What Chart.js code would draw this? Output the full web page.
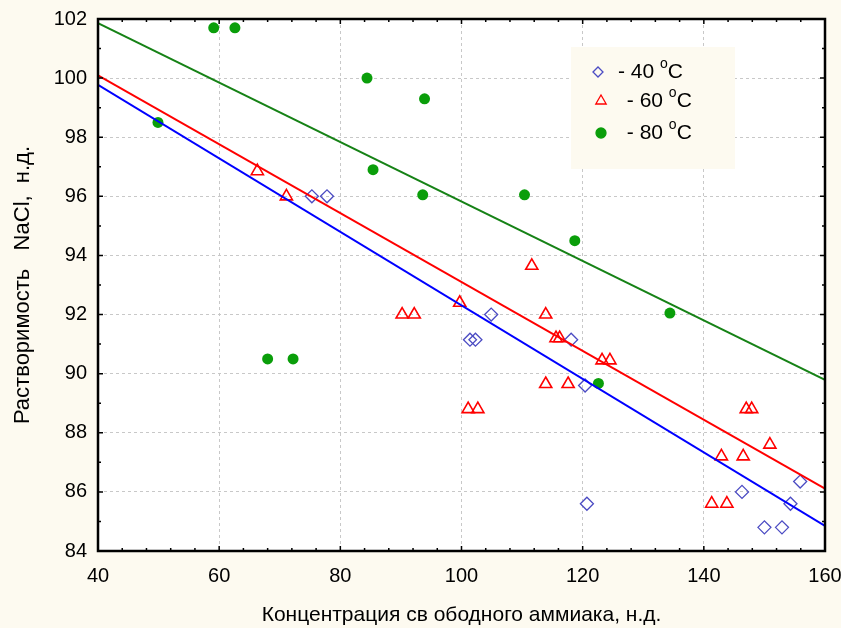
<!DOCTYPE html>
<html>
<head>
<meta charset="utf-8">
<script src="https://cdn.jsdelivr.net/npm/chart.js@4"></script>
<style>
  html, body { margin: 0; padding: 0; background: #fdfaf0; }
  #wrap { width: 841px; height: 628px; }
</style>
</head>
<body>
<div id="wrap"><canvas id="chart" width="841" height="628"></canvas></div>
<script>
// measured points, 40 / 60 / 80 °C
const x40 = [75.3, 77.8, 104.9, 101.4, 102.3, 118.1, 120.4, 120.7, 146.3, 150.0, 152.9, 154.3, 155.9];
const y40 = [96.0, 96.0, 92.0, 91.15, 91.15, 91.15, 89.6, 85.6, 86.0, 84.8, 84.8, 85.6, 86.35];

const x60 = [66.3, 71.1, 90.2, 92.2, 99.7, 111.6, 113.9, 115.6, 116.2, 123.2, 124.5, 113.9, 117.6,
             101.1, 102.7, 147.0, 147.9, 150.9, 142.9, 146.5, 141.3, 143.8];
const y60 = [96.85, 96.0, 92.0, 92.0, 92.4, 93.65, 92.0, 91.2, 91.2, 90.45, 90.45, 89.65, 89.65,
             88.8, 88.8, 88.8, 88.8, 87.6, 87.2, 87.2, 85.6, 85.6];

const x80 = [59.1, 62.6, 84.4, 85.4, 49.9, 93.9, 93.6, 110.4, 118.7, 68.0, 72.2, 122.6, 134.4];
const y80 = [101.7, 101.7, 100.0, 96.9, 98.5, 99.3, 96.05, 96.05, 94.5, 90.5, 90.5, 89.67, 92.05];

// regression lines (end points)
const fitX = [40, 160];
const fit40 = [99.77, 84.85];
const fit60 = [100.09, 86.11];
const fit80 = [101.86, 89.79];

const legendLabels = ['- 40 ', ' - 60 ', ' - 80 '];

const BLUE_MARK = '#4b4bc3';
const RED = '#ff0000';
const GREEN = '#0a9e0a';
const FONT = '"Liberation Sans", Arial, sans-serif';

function pts(xs, ys) {
    return xs.map((x, i) => ({x: x, y: ys[i]}));
}

const plotBackground = {
    id: 'plotBackground',
    beforeDraw(chart) {
        const {ctx, chartArea: a} = chart;
        ctx.save();
        ctx.fillStyle = '#ffffff';
        ctx.fillRect(a.left, a.top, a.right - a.left, a.bottom - a.top);
        ctx.restore();
    }
};

// frame with inward ticks on all four sides
const frameTicks = {
    id: 'frameTicks',
    afterDraw(chart) {
        const {ctx, chartArea: a, scales} = chart;
        const xs = scales.x, ys = scales.y;
        ctx.save();
        ctx.strokeStyle = '#000';
        ctx.lineWidth = 1.5;
        ctx.beginPath();
        for (let v = 40; v <= 160; v += 4) {
            const px = xs.getPixelForValue(v);
            const len = (v % 20 === 0) ? 5 : 3;
            ctx.moveTo(px, a.bottom); ctx.lineTo(px, a.bottom - len);
            ctx.moveTo(px, a.top); ctx.lineTo(px, a.top + len);
        }
        for (let v = 84; v <= 102; v += 1) {
            const py = ys.getPixelForValue(v);
            const len = (v % 2 === 0) ? 5 : 3;
            ctx.moveTo(a.left, py); ctx.lineTo(a.left + len, py);
            ctx.moveTo(a.right, py); ctx.lineTo(a.right - len, py);
        }
        ctx.stroke();
        ctx.lineWidth = 2.5;
        ctx.strokeRect(a.left, a.top, a.right - a.left, a.bottom - a.top);
        ctx.restore();
    }
};

const boxLegend = {
    id: 'boxLegend',
    afterDraw(chart) {
        const ctx = chart.ctx;
        ctx.save();
        ctx.fillStyle = '#fdfaf0';
        ctx.fillRect(571, 47, 164, 122);
        const rows = [72, 101, 133];
        const styles = ['rectRot', 'triangle', 'circle'];
        const colors = [BLUE_MARK, RED, GREEN];
        const textX = [618, 621, 621];
        rows.forEach((y, i) => {
            const mx = i === 0 ? 598 : 601;
            const opts = {pointStyle: styles[i], radius: i === 1 ? 6 : 5, borderWidth: 1.3};
            ctx.strokeStyle = colors[i];
            ctx.fillStyle = i === 2 ? GREEN : 'rgba(0,0,0,0)';
            ctx.lineWidth = 1.3;
            Chart.helpers.drawPoint(ctx, opts, mx, y);
            ctx.fillStyle = '#000';
            ctx.textBaseline = 'middle';
            ctx.font = '21px ' + FONT;
            const t = legendLabels[i];
            ctx.fillText(t, textX[i], y);
            const w = ctx.measureText(t).width;
            ctx.font = '14px ' + FONT;
            ctx.fillText('o', textX[i] + w, y - 8);
            const w2 = ctx.measureText('o').width;
            ctx.font = '21px ' + FONT;
            ctx.fillText('C', textX[i] + w + w2, y);
        });
        ctx.restore();
    }
};

const tickFont = {family: FONT, size: 20};

new Chart(document.getElementById('chart'), {
    type: 'scatter',
    data: {
        datasets: [
            {label: 'fit 40', type: 'line', data: pts(fitX, fit40), borderColor: '#0000ff', borderWidth: 2,
             pointRadius: 0, fill: false, tension: 0},
            {label: 'fit 60', type: 'line', data: pts(fitX, fit60), borderColor: RED, borderWidth: 2,
             pointRadius: 0, fill: false, tension: 0},
            {label: 'fit 80', type: 'line', data: pts(fitX, fit80), borderColor: '#168216', borderWidth: 2,
             pointRadius: 0, fill: false, tension: 0},
            {label: '40', data: pts(x40, y40), pointStyle: 'rectRot', pointRadius: 6.5, borderWidth: 1.3,
             borderColor: BLUE_MARK, backgroundColor: 'rgba(255,255,255,0)'},
            {label: '60', data: pts(x60, y60), pointStyle: 'triangle', pointRadius: 7, borderWidth: 1.6,
             borderColor: RED, backgroundColor: 'rgba(255,255,255,0)'},
            {label: '80', data: pts(x80, y80), pointStyle: 'circle', pointRadius: 5.5, borderWidth: 0,
             borderColor: GREEN, backgroundColor: GREEN}
        ]
    },
    options: {
        responsive: false,
        animation: false,
        layout: {padding: {left: 0, top: 19, right: 16, bottom: 0}},
        plugins: {legend: {display: false}, tooltip: {enabled: false}},
        scales: {
            x: {
                min: 40, max: 160,
                afterFit: s => { s.height = 77; s.paddingLeft = 0; s.paddingRight = 0; },
                ticks: {stepSize: 20, color: '#000', font: tickFont, padding: 13, maxRotation: 0},
                grid: {color: '#c8c8c8', lineWidth: 1, drawTicks: false},
                border: {display: false, dash: [3, 3]},
                title: {display: true, text: 'Концентрация св ободного аммиака, н.д.', color: '#000',
                        font: {family: FONT, size: 21}, padding: {top: 4, bottom: 0}}
            },
            y: {
                min: 84, max: 102,
                afterFit: s => { s.width = 98; s.paddingTop = 0; s.paddingBottom = 0; },
                ticks: {stepSize: 2, color: '#000', font: tickFont, padding: 11},
                grid: {color: '#c8c8c8', lineWidth: 1, drawTicks: false},
                border: {display: false, dash: [3, 3]},
                title: {display: true, text: 'Растворимость   NaCl,  н.д.', color: '#000',
                        font: {family: FONT, size: 22}, padding: {top: 10, bottom: 0}}
            }
        }
    },
    plugins: [plotBackground, frameTicks, boxLegend]
});
</script>
</body>
</html>
